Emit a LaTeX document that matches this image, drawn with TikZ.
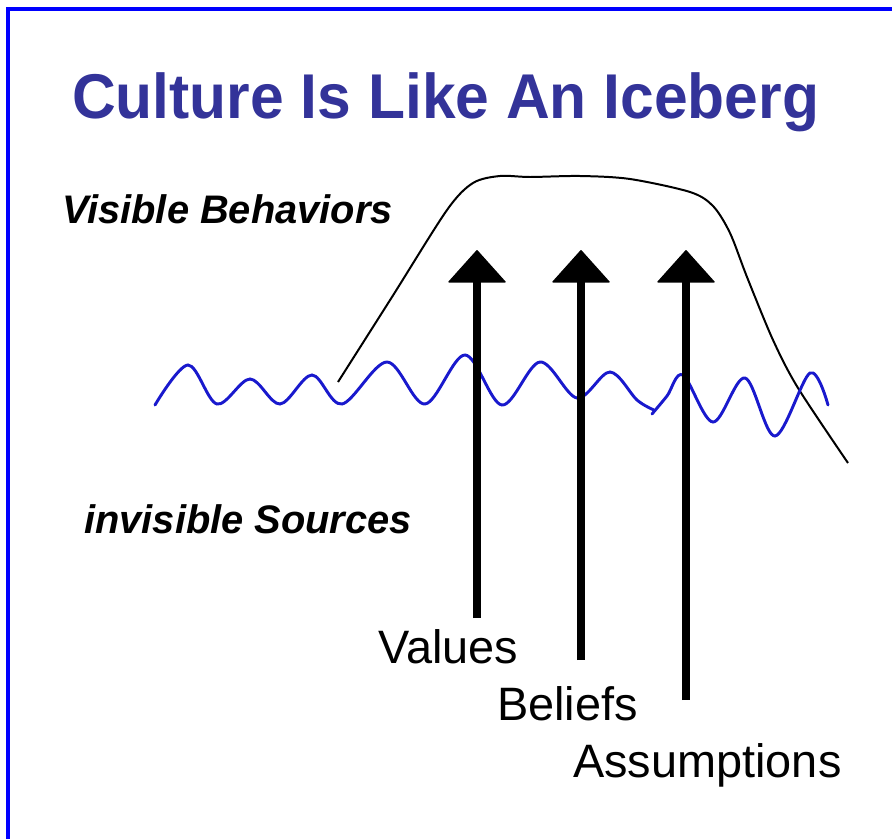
\documentclass[tikz,border=0pt]{standalone}
\usepackage{fontspec}
\setmainfont{Liberation Sans}
\usepackage{tikz}
\usetikzlibrary{arrows.meta}
\definecolor{titleblue}{RGB}{51,51,153}
\definecolor{waveblue}{RGB}{25,25,205}
\definecolor{frameblue}{RGB}{0,0,255}

\begin{document}
\begin{tikzpicture}[x=0.03cm, y=-0.03cm,
  heading/.style={anchor=base west, inner sep=0pt, text=titleblue,
    xscale=0.957, transform shape,
    font=\fontsize{54pt}{60pt}\selectfont\bfseries},
  layer/.style={anchor=base west, inner sep=0pt,
    font=\fontsize{34pt}{40pt}\selectfont\bfseries\itshape},
  source/.style={anchor=base west, inner sep=0pt,
    font=\fontsize{40pt}{46pt}\selectfont},
  rise/.style={line width=6.8pt,
    -{Triangle[length=28pt, width=50pt, line width=1pt, round]}}]
  \useasboundingbox (0,0) rectangle (892,839);

  % Frame
  \draw[frameblue, line width=2.6pt] (8,839) -- (8,9) -- (892,9);

  % Title
  \node[heading] (title) at (72,118) {Culture Is Like An Iceberg};

  % Layers
  \node[layer] (visible)   at (62,223)  {Visible Behaviors};
  \node[layer] (invisible) at (84,533)  {invisible Sources};

  % Iceberg
  \draw[line width=1.7pt, line join=round]
    plot[smooth, tension=0.5] coordinates {(338,382) (392,297) (447,210)
      (473,183) (500,176) (530,177) (580,176) (630,179) (690,192)
      (713,206) (730,233) (747,277) (773,340) (798,388) (848,463)};

  % Water line
  \draw[waveblue, line width=2.5pt, line cap=round]
    plot[smooth, tension=0.55] coordinates {(155,405) (188,365) (217,404)
      (250,379) (280,404) (312,375) (342,404) (387,362) (425,404)
      (465,355) (502,405) (540,362) (577,398) (610,372) (637,400)
      (654,410)};
  \draw[waveblue, line width=2.5pt, line cap=round]
    plot[smooth, tension=0.55] coordinates {(652,414) (667,396)
      (683,375) (713,422) (745,378) (775,436) (810,373) (828,405)};

  % Sources
  \node[source] (values)      at (378,663) {Values};
  \node[source] (beliefs)     at (497,720) {Beliefs};
  \node[source] (assumptions) at (573,777) {Assumptions};

  \coordinate (valuesfoot)      at (477,618);
  \coordinate (beliefsfoot)     at (581,660);
  \coordinate (assumptionsfoot) at (686,700);
  \coordinate (valuestip)       at (477,250);
  \coordinate (beliefstip)      at (581,250);
  \coordinate (assumptionstip)  at (686,250);

  \draw[rise] (valuesfoot)      -- (valuestip);
  \draw[rise] (beliefsfoot)     -- (beliefstip);
  \draw[rise] (assumptionsfoot) -- (assumptionstip);
\end{tikzpicture}
\end{document}
